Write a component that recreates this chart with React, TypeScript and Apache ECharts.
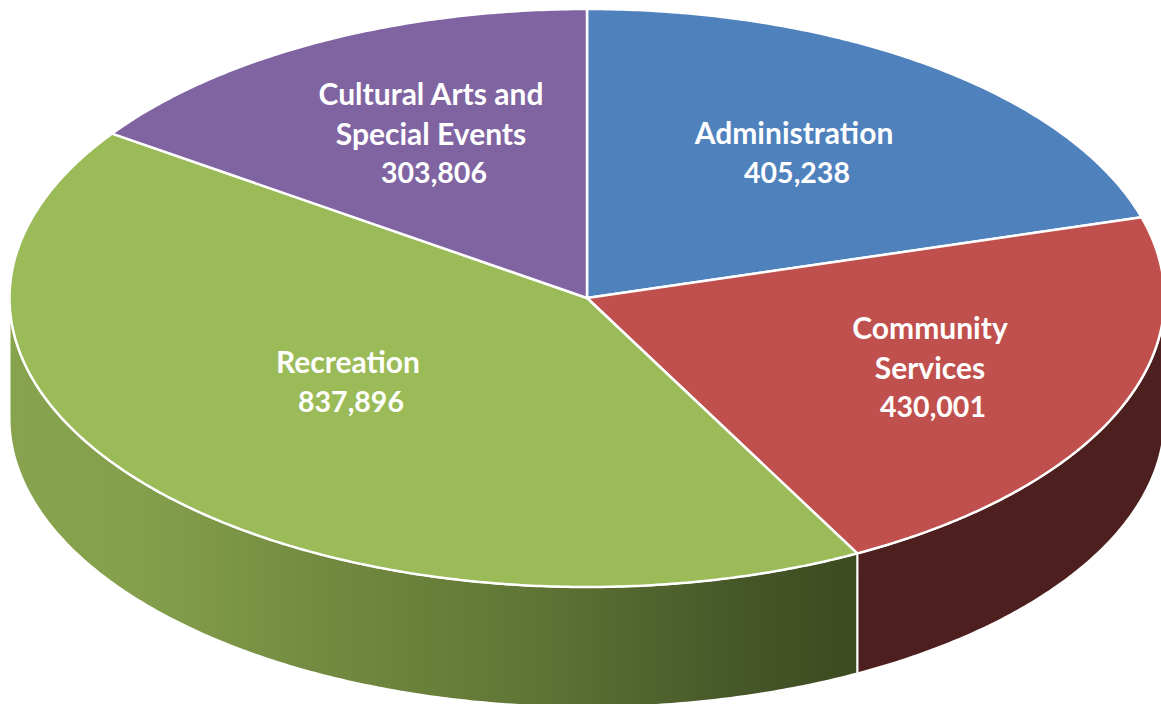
import React, { useEffect, useRef } from "react";
import * as echarts from "echarts";

const categories = ["Administration", "Community Services", "Recreation", "Cultural Arts and Special Events"];
const budgetValues = [405238, 430001, 837896, 303806];
const labelLines = [
  ["Administration", "405,238"],
  ["Community", "Services", "430,001"],
  ["Recreation", "837,896"],
  ["Cultural Arts and", "Special Events", "303,806"],
];
const topColors = ["#4f81bd", "#c0504d", "#9bbb59", "#8064a2"];

// Pie disc geometry, tilted so the circle reads as an ellipse.
const CX = 587;
const CY = 298;
const RX = 577.5;
const RY = 289;
const DEPTH = 120;

// Where each slice's caption is centred (first line middle, line pitch below).
const captionCentres = [
  [794, 132],
  [930, 327],
  [348, 361],
  [431, 93],
];
const LINE_PITCH = 39.5;
const VALUE_LINE_SHIFT = 3;

const rimPoint = (deg: number, dy = 0): number[] => {
  const a = (deg * Math.PI) / 180;
  return [CX + RX * Math.sin(a), CY - RY * Math.cos(a) + dy];
};

const arcPoints = (from: number, to: number, dy = 0): number[][] => {
  const pts: number[][] = [];
  const steps = Math.max(2, Math.ceil(Math.abs(to - from) * 2));
  for (let i = 0; i <= steps; i++) pts.push(rimPoint(from + ((to - from) * i) / steps, dy));
  return pts;
};

const sideFills: Record<number, any> = {
  1: "#4d1f1f",
  2: new echarts.graphic.LinearGradient(0, 0, 1, 0, [
    { offset: 0, color: "#87a34e" },
    { offset: 0.15, color: "#84a04c" },
    { offset: 0.35, color: "#748c41" },
    { offset: 0.6, color: "#617736" },
    { offset: 0.85, color: "#475829" },
    { offset: 1, color: "#3d4b20" },
  ]),
};

const total = budgetValues.reduce((s, v) => s + v, 0);

export default function App() {
  const ref = useRef<HTMLDivElement>(null);

  useEffect(() => {
    document.body.style.margin = "0";
    document.body.style.background = "#ffffff";
    const chart = echarts.init(ref.current!, undefined, { renderer: "svg" });
    chart.setOption({
      animation: false,
      backgroundColor: "#ffffff",
      tooltip: { show: false },
      series: [
        {
          // Side walls go first so the top slices sit over their upper edge.
          type: "custom",
          coordinateSystem: "none",
          silent: true,
          z: 1,
          data: budgetValues.map((value, i) => ({ name: categories[i], value })),
          renderItem: (params: any, api: any) => {
            const i = params.dataIndex;
            let start = 0;
            for (let k = 0; k < i; k++) start += (budgetValues[k] / total) * 360;
            const end = start + (api.value(0) / total) * 360;
            const from = Math.max(start, 90);
            const to = Math.min(end, 270);
            if (to <= from) return { type: "group", children: [] };
            const points = [...arcPoints(from, to), ...arcPoints(to, from, DEPTH)];
            return {
              type: "polygon",
              shape: { points },
              style: { fill: sideFills[i], stroke: "#ffffff", lineWidth: 2 },
            };
          },
        },
        {
          type: "custom",
          coordinateSystem: "none",
          silent: true,
          z: 2,
          data: budgetValues.map((value, i) => ({ name: categories[i], value })),
          renderItem: (params: any, api: any) => {
            const i = params.dataIndex;
            let start = 0;
            for (let k = 0; k < i; k++) start += (budgetValues[k] / total) * 360;
            const end = start + (api.value(0) / total) * 360;
            const [lx, ly] = captionCentres[i];
            return {
              type: "group",
              children: [
                {
                  type: "polygon",
                  shape: { points: [[CX, CY], ...arcPoints(start, end)] },
                  style: { fill: topColors[i], stroke: "#ffffff", lineWidth: 2.5, lineJoin: "round" },
                },
                ...labelLines[i].map((line, n) => {
                  const isValue = n === labelLines[i].length - 1;
                  return {
                    type: "text",
                    z2: 10,
                    style: {
                      x: lx + (isValue ? VALUE_LINE_SHIFT : 0),
                      y: ly + n * LINE_PITCH,
                      text: line,
                      fill: "#ffffff",
                      font: `700 ${isValue ? 28.5 : 30}px Lato, "Noto Sans", sans-serif`,
                      align: "center",
                      verticalAlign: "middle",
                    },
                  };
                }),
              ],
            };
          },
        },
      ],
    });
    return () => chart.dispose();
  }, []);

  return <div ref={ref} style={{ width: 1161, height: 704 }} />;
}
